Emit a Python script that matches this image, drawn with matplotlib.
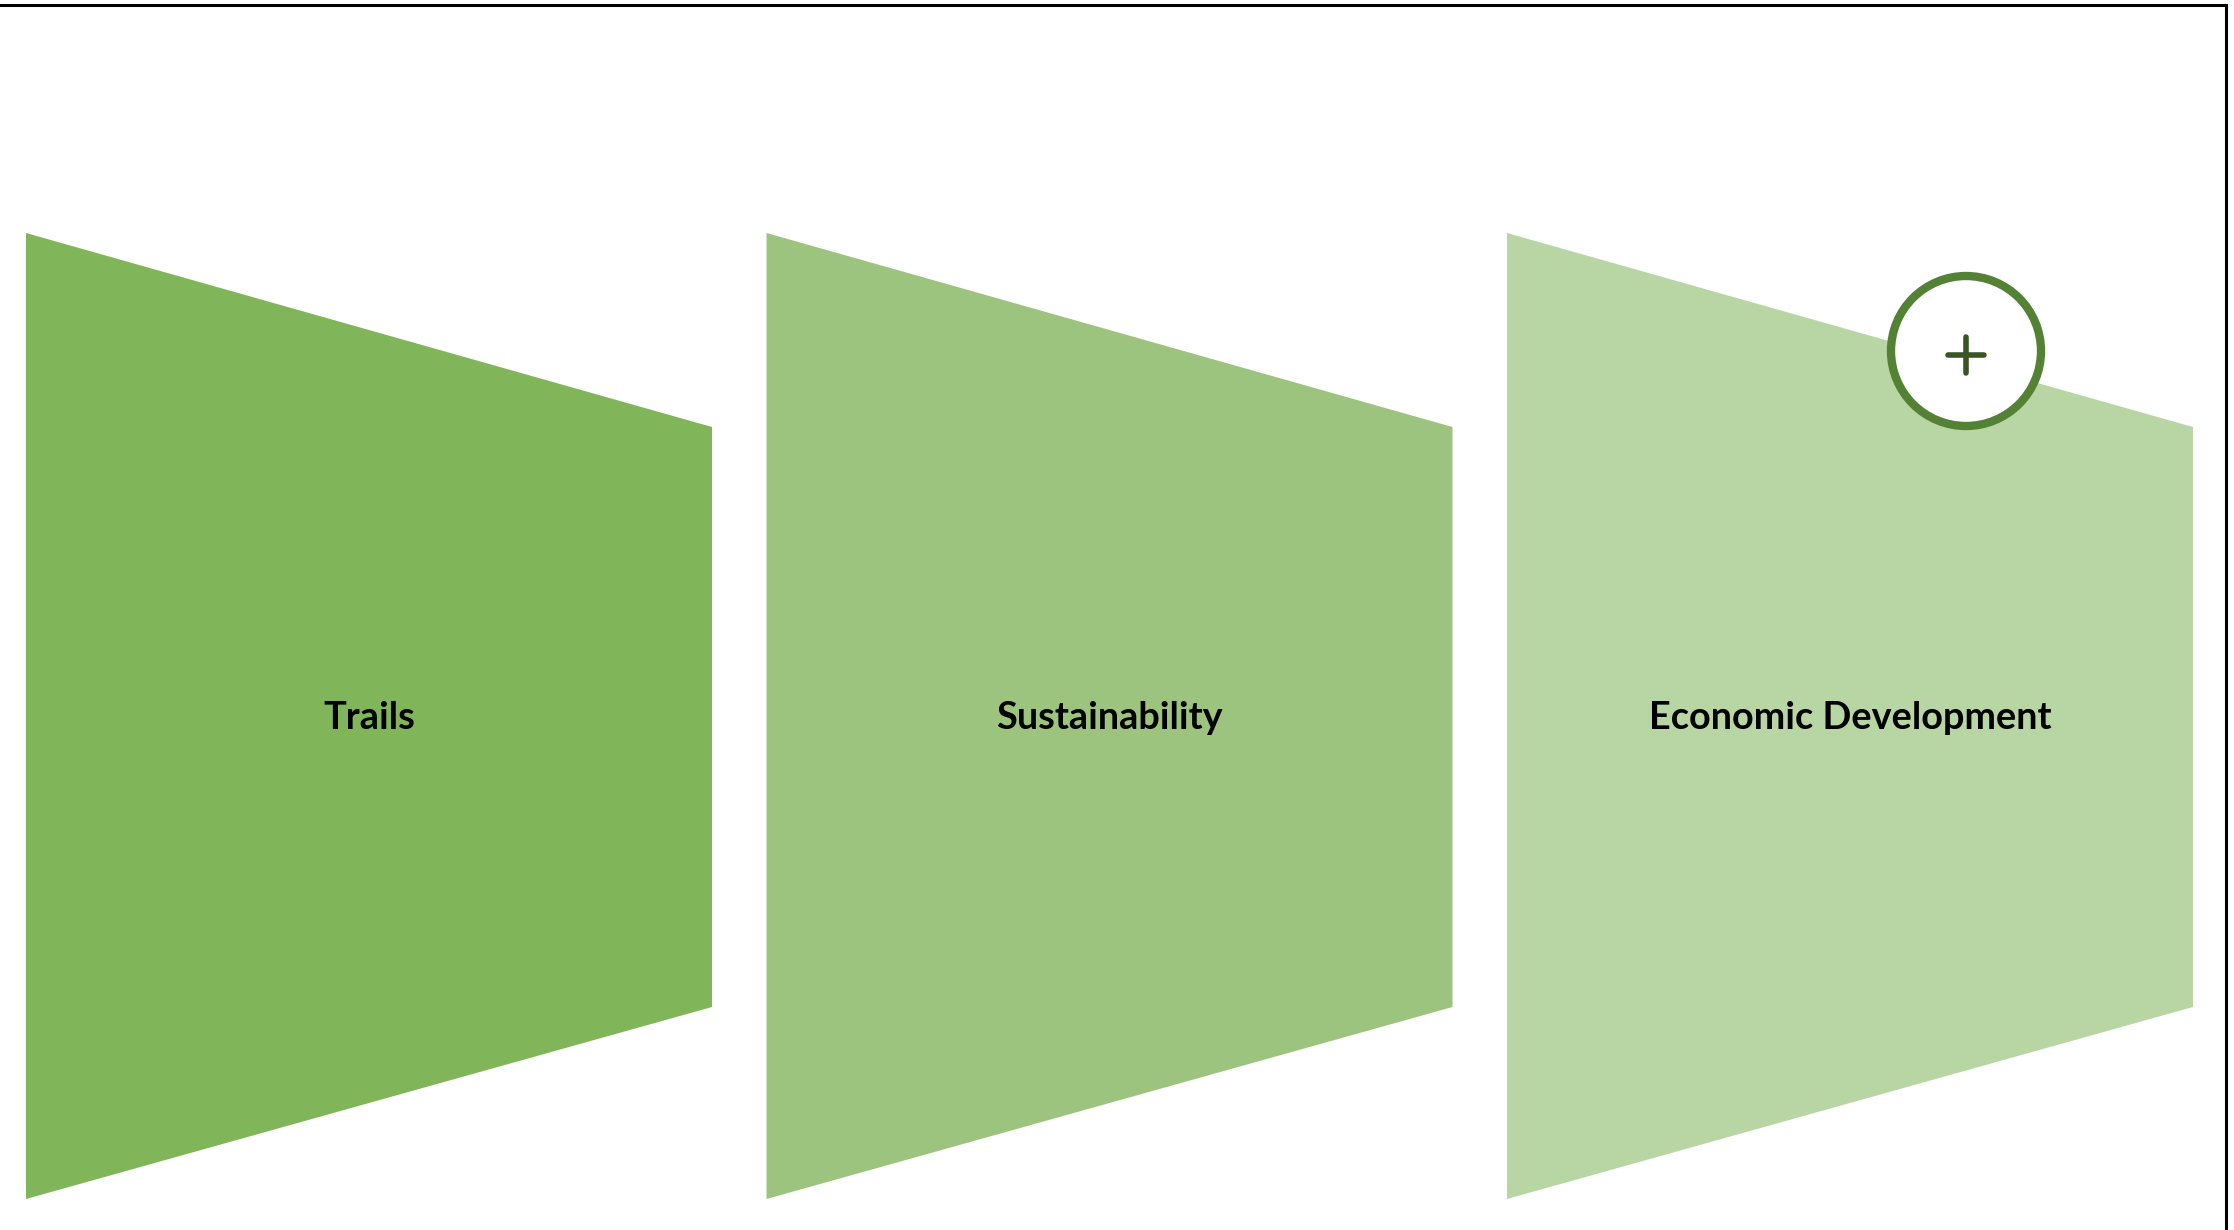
import matplotlib.pyplot as plt
from matplotlib.patches import Polygon, Circle

# SmartArt-like step shapes
labels = ["Trails", "Sustainability", "Economic Development"]
fills = ["#80b55a", "#9dc47f", "#b8d6a4"]

W, H = 2234, 1230
fig = plt.figure(figsize=(W / 100, H / 100), dpi=100)
ax = fig.add_axes([0, 0, 1, 1])
ax.set_xlim(0, W)
ax.set_ylim(H, 0)
ax.axis("off")

x0 = 26       # left of first shape
sw = 686      # shape width
step = 740.5  # distance between shapes
y_top, y_top_r = 233, 427
y_bot_r, y_bot = 1007, 1199

for i, (lab, col) in enumerate(zip(labels, fills)):
    xl = x0 + i * step
    xr = xl + sw
    poly = Polygon([(xl, y_top), (xr, y_top_r), (xr, y_bot_r), (xl, y_bot)],
                   closed=True, facecolor=col, edgecolor="none")
    ax.add_patch(poly)
    ax.text((xl + xr) / 2, 718, lab, ha="center", va="center",
            fontsize=27.3, fontweight="bold", family=["Lato", "DejaVu Sans"],
            color="black")

# plus button on the last shape
ax.add_patch(Circle((1966, 351), 75, facecolor="white", edgecolor="#548235", lw=6))
ax.plot([1948, 1984], [355, 355], color="#375623", lw=4, solid_capstyle="round")
ax.plot([1966, 1966], [337, 373], color="#375623", lw=4, solid_capstyle="round")

# frame lines (top and right)
ax.plot([0, 2226], [5, 5], color="black", lw=2.2)
ax.plot([2226, 2226], [5, H], color="black", lw=2.2)

fig.savefig("out.png", dpi=100)
